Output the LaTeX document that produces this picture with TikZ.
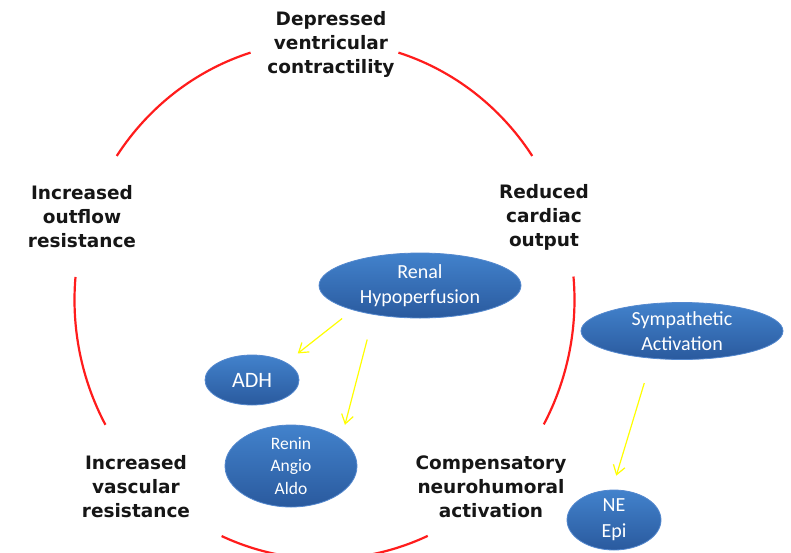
\documentclass[tikz,border=0pt]{standalone}
\usepackage{fontspec}
\setmainfont{DejaVu Sans}
\newfontfamily\bubblefont{Carlito}
\usetikzlibrary{arrows.meta,shapes.geometric}

\definecolor{cyclered}{RGB}{255,28,28}
\definecolor{bubbletop}{RGB}{66,130,204}
\definecolor{bubblebottom}{RGB}{42,90,158}
\definecolor{bubbleedge}{RGB}{84,136,206}
\definecolor{hormone}{RGB}{255,255,0}

\begin{document}
\begin{tikzpicture}[x=1pt,y=-1pt,
    stage/.style={align=center,inner sep=0pt,text={rgb,255:red,22;green,22;blue,22},
        font=\bfseries\fontsize{18.5}{24}\selectfont},
    bubble/.style={ellipse,top color=bubbletop,bottom color=bubblebottom,
        draw=bubbleedge,line width=0.8pt,text=white,align=center,inner sep=-4pt,outer sep=0pt},
    cyclearc/.style={draw=cyclered,line width=2.2pt},
    release/.style={draw=hormone,line width=1.2pt,-{Straight Barb[length=9pt,width=12pt]}}]
        \useasboundingbox (0,0) rectangle (791,552);

        % the vicious circle
        \coordinate (Hub) at (324.5,300);
        \draw[cyclearc] (Hub) ++(-107.2:250 and 259) arc[start angle=-107.2,end angle=-146.2,x radius=250,y radius=259];
        \draw[cyclearc] (Hub) ++(-72.8:250 and 259) arc[start angle=-72.8,end angle=-33.8,x radius=250,y radius=259];
        \draw[cyclearc] (Hub) ++(-5.2:250 and 259) arc[start angle=-5.2,end angle=28.7,x radius=250,y radius=259];
        \draw[cyclearc] (Hub) ++(65.6:250 and 259) arc[start angle=65.6,end angle=114.3,x radius=250,y radius=259];
        \draw[cyclearc] (Hub) ++(151.2:250 and 259) arc[start angle=151.2,end angle=185.1,x radius=250,y radius=259];

        \node[stage] (Contractility) at (331,44) {Depressed\\ventricular\\contractility};
        \node[stage] (Output) at (544,217) {Reduced\\cardiac\\output};
        \node[stage] (Outflow) at (82,217) {Increased\\outflow\\resistance};
        \node[stage] (Vascular) at (136,487) {Increased\\vascular\\resistance};
        \node[stage] (Compensatory) at (491,487) {Compensatory\\neurohumoral\\activation};

        % mediators
        \node[bubble,minimum width=202pt,minimum height=65pt,font=\bubblefont\fontsize{20}{25}\selectfont] (Renal) at (420,285.5) {Renal\\Hypoperfusion};
        \node[bubble,minimum width=202pt,minimum height=57pt,font=\bubblefont\fontsize{20}{24.5}\selectfont] (Sympathetic) at (682,331) {Sympathetic\\Activation};
        \node[bubble,minimum width=94pt,minimum height=50pt,font=\bubblefont\fontsize{22}{26}\selectfont] (ADH) at (252,380) {ADH};
        \node[bubble,minimum width=132pt,minimum height=82pt,font=\bubblefont\fontsize{17.5}{22.5}\selectfont] (RAA) at (291,466) {Renin\\Angio\\Aldo};
        \node[bubble,minimum width=94pt,minimum height=60pt,font=\bubblefont\fontsize{20}{26}\selectfont] (NE) at (614,520) {NE\\Epi};

        \draw[release,shorten <=14pt,shorten >=15pt] (Renal.200) -- (ADH.27);
        \draw[release,shorten <=26pt,shorten >=15pt] (Renal.212) -- (RAA.28);
        \draw[release,shorten <=26pt,shorten >=15pt] (Sympathetic.222) -- (NE.94);

\end{tikzpicture}
\end{document}
